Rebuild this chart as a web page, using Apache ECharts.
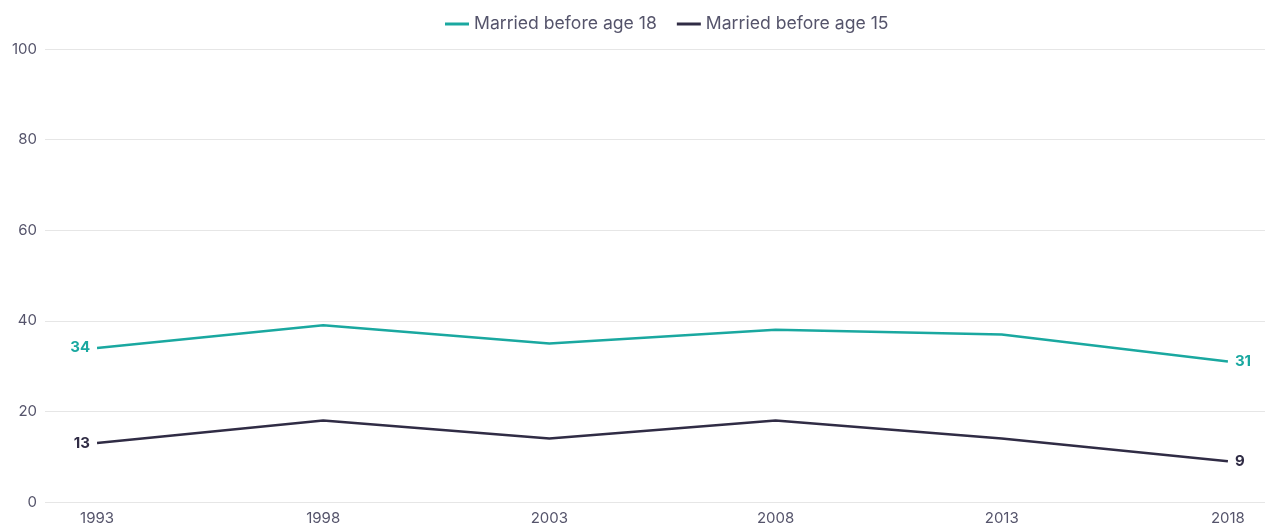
<!DOCTYPE html>
<html>
<head>
<meta charset="utf-8">
<script src="https://cdn.jsdelivr.net/npm/echarts@6/dist/echarts.min.js"></script>
<style>
  html, body { margin: 0; padding: 0; background: #fff; }
  #main { width: 1265px; height: 526px; }
</style>
</head>
<body>
<div id="main"></div>
<script>
// data
var years = [1993, 1998, 2003, 2008, 2013, 2018]
var before18 = [34, 39, 35, 38, 37, 31]
var before15 = [13, 18, 14, 18, 14, 9]
var yTicks = [0, 20, 40, 60, 80, 100]

var teal = '#1aa8a0'
var dark = '#302c45'

// pairs year/value, first and last point get a bold label
function buildData(values, color) {
  return values.map(function (v, i) {
    var item = { value: [years[i], v] }
    if (i === 0 || i === values.length - 1) {
      item.label = {
        show: true,
        position: i === 0 ? 'left' : 'right',
        distance: 7,
        color: color,
        fontWeight: 'bold',
        fontSize: 15,
        fontFamily: 'Inter',
        formatter: function (p) { return p.value[1] }
      }
    }
    return item
  })
}

var myChart = echarts.init(document.getElementById('main'))
myChart.setOption({
  animation: false,
  color: [teal, dark],
  textStyle: { fontFamily: 'Inter' },
  legend: {
    top: 10,
    left: 440,
    itemWidth: 24,
    itemHeight: 3,
    itemGap: 20,
    icon: 'rect',
    textStyle: { color: '#55546b', fontSize: 17.6, fontFamily: 'Inter' },
    data: ['Married before age 18', 'Married before age 15']
  },
  grid: { left: 45, right: 0, top: 49, bottom: 18, containLabel: false },
  xAxis: {
    type: 'value',
    min: 1991.85,
    max: 2018.82,
    axisLine: { show: false },
    axisTick: { show: false },
    splitLine: { show: false },
    axisLabel: {
      customValues: years,
      color: '#55546b',
      fontSize: 15,
      margin: 9,
      formatter: function (v) { return String(v) }
    }
  },
  yAxis: {
    type: 'value',
    min: yTicks[0],
    max: yTicks[yTicks.length - 1],
    interval: 20,
    axisLine: { show: false },
    axisTick: { show: false },
    splitLine: { lineStyle: { color: '#e6e6e6', width: 1 } },
    axisLabel: { color: '#55546b', fontSize: 15, margin: 8 }
  },
  series: [
    {
      name: 'Married before age 18',
      type: 'line',
      showSymbol: true,
      symbol: 'circle',
      symbolSize: 0,
      lineStyle: { width: 2.5, color: teal },
      data: buildData(before18, teal)
    },
    {
      name: 'Married before age 15',
      type: 'line',
      showSymbol: true,
      symbol: 'circle',
      symbolSize: 0,
      lineStyle: { width: 2.5, color: dark },
      data: buildData(before15, dark)
    }
  ]
})
</script>
</body>
</html>
